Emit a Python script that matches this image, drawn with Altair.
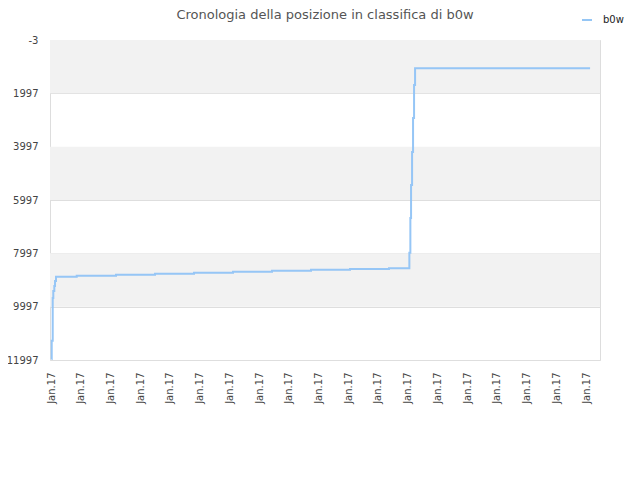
import altair as alt
import pandas as pd

# Data (days since first label, rank position)
days = [0.013, 0.024, 0.057, 0.077, 0.111, 0.135, 0.168, 0.865, 2.187, 3.499,
        4.812, 6.124, 7.436, 8.748, 10.06, 11.37, 12.056, 12.09, 12.113, 12.147,
        12.18, 12.214, 12.248, 18.136]
positions = [11960, 11273, 9672, 9410, 9222, 9035, 8873, 8836, 8799, 8760,
             8723, 8685, 8648, 8610, 8585, 8558, 7973, 6672, 5435, 4197,
             2922, 1685, 1058, 1058]
series_name = "b0w"
y_ticks = [-3, 1997, 3997, 5997, 7997, 9997, 11997]
x_ticks = list(range(0, 19))
x_label = "Jan.17"
band_start = [-3, 3997, 7997]
band_end = [1997, 5997, 9997]

df = pd.DataFrame({"day": days, "pos": positions, "serie": series_name})
bands = pd.DataFrame({"y": band_start, "y2": band_end})

FONT = "DejaVu Sans"
LINE_COLOR = "#90c3f5"

y_scale = alt.Scale(domain=[-3, 11997], reverse=True, nice=False, zero=False)
x_scale = alt.Scale(domain=[-0.034, 18.47], nice=False, zero=False)

band_layer = alt.Chart(bands).mark_rect(color="#f2f2f2").encode(
    y=alt.Y("y:Q", scale=y_scale),
    y2="y2:Q",
)

line = alt.Chart(df).mark_line(interpolate="step-after", strokeWidth=2, opacity=0.95).encode(
    x=alt.X("day:Q", scale=x_scale, title=None,
            axis=alt.Axis(values=x_ticks, labelExpr=f"'{x_label}'", labelAngle=270,
                          labelAlign="right", labelBaseline="middle", ticks=False,
                          labelPadding=12, grid=False, domain=False,
                          labelFont=FONT, labelFontSize=10, labelColor="#444")),
    y=alt.Y("pos:Q", scale=y_scale, title=None,
            axis=alt.Axis(values=y_ticks, labelExpr="'' + datum.value", ticks=False,
                          domain=False, grid=True, gridColor="#dedede", labelPadding=12,
                          labelFont=FONT, labelFontSize=10, labelColor="#444")),
    color=alt.Color("serie:N", scale=alt.Scale(range=[LINE_COLOR]),
                    legend=alt.Legend(title=None, orient="none", legendX=531, legendY=-26,
                                      labelFont=FONT, labelFontSize=10, labelColor="#222",
                                      labelOffset=10,
                                      symbolType="stroke", symbolSize=100, symbolStrokeWidth=2)),
)

chart = alt.layer(band_layer, line).properties(
    width=550,
    height=320,
    title=alt.TitleParams("Cronologia della posizione in classifica di b0w",
                          font=FONT, fontSize=13, fontWeight="normal", color="#555",
                          anchor="middle", offset=14, dy=22),
    autosize=alt.AutoSizeParams(type="none"),
    padding={"left": 42, "top": 32, "right": 32, "bottom": 100},
).configure_view(stroke="#dddddd", strokeWidth=1)

chart.save("out.html", embed_options={"renderer": "svg", "actions": False})
